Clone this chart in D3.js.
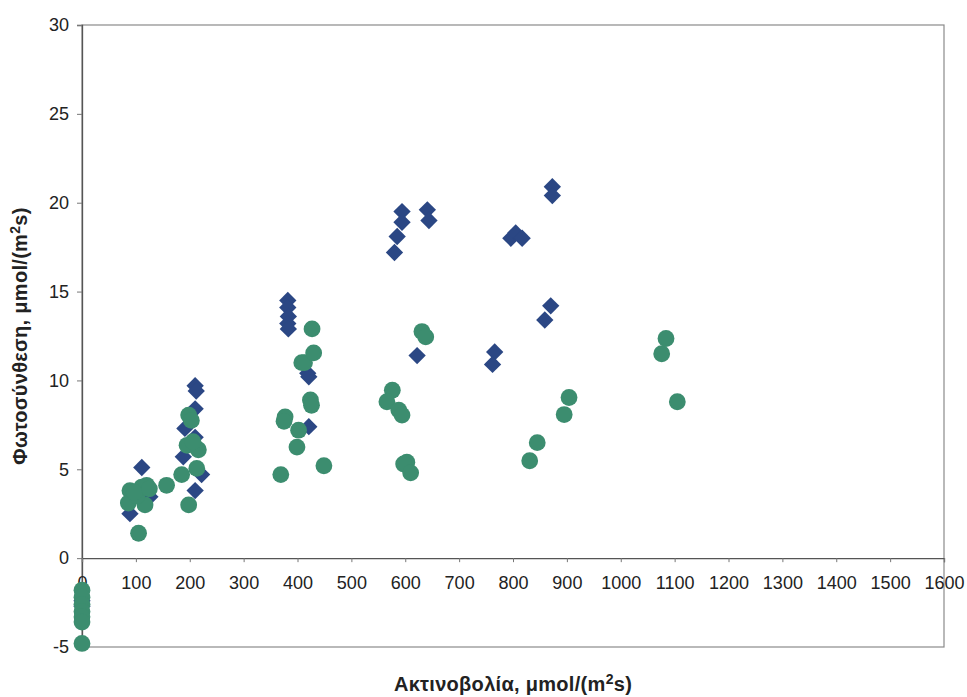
<!DOCTYPE html>
<html>
<head>
<meta charset="utf-8">
<script src="https://cdn.jsdelivr.net/npm/d3@7"></script>
<style>
  html, body { margin: 0; padding: 0; background: #fff; }
  svg { display: block; }
  text { font-family: "Liberation Sans", Arial, sans-serif; fill: #222; }
</style>
</head>
<body>
<svg id="chart" width="967" height="697"></svg>
<script>
// Series 1 (diamonds): radiation and photosynthesis
const seriesAX = [0, 0, 89, 111, 126, 210, 212, 210, 191, 210, 188, 222, 210,
  382, 382, 383, 382, 383, 419, 421, 421,
  594, 594, 585, 580, 641, 644, 622,
  766, 762, 796, 805, 817, 873, 873, 870, 859];
const seriesAY = [-2.4, -2.7, 2.5, 5.1, 3.45, 9.7, 9.4, 8.4, 7.3, 6.8, 5.7, 4.7, 3.8,
  14.5, 14.1, 13.6, 13.2, 12.9, 10.4, 10.2, 7.4,
  19.5, 18.9, 18.1, 17.2, 19.6, 19.0, 11.4,
  11.6, 10.9, 18.0, 18.3, 18.0, 20.9, 20.4, 14.2, 13.4];

// Series 2 (circles)
const seriesBX = [0, 0, 0, 0, 0, 0, 0,
  105, 89, 111, 120, 86, 117, 102, 97, 125,
  157, 185, 198, 203, 195, 216, 206, 213, 198,
  369, 377, 375, 399, 402, 408, 413, 427, 430, 424, 426, 449,
  576, 566, 588, 594, 603, 597, 610, 631, 638,
  831, 845, 895, 904, 1076, 1084, 1105];
const seriesBY = [-1.8, -2.2, -2.6, -3.0, -3.3, -3.6, -4.8,
  1.4, 3.8, 4.0, 4.1, 3.1, 3.0, 3.5, 3.7, 3.9,
  4.1, 4.7, 8.05, 7.75, 6.35, 6.1, 6.55, 5.05, 3.0,
  4.7, 7.95, 7.7, 6.25, 7.2, 11.0, 11.0, 12.9, 11.55, 8.9, 8.6, 5.2,
  9.45, 8.8, 8.33, 8.05, 5.4, 5.3, 4.8, 12.75, 12.45,
  5.48, 6.5, 8.08, 9.04, 11.5, 12.36, 8.8];

const xTicks = [0, 100, 200, 300, 400, 500, 600, 700, 800, 900, 1000, 1100, 1200, 1300, 1400, 1500, 1600];
const yTicks = [-5, 0, 5, 10, 15, 20, 25, 30];

const xTitle = "Ακτινοβολία, μmol/(m";
const yTitle = "Φωτοσύνθεση, μmol/(m";

const svg = d3.select("#chart");
const plotL = 82, plotR = 944, plotT = 25, plotB = 647;

const x = d3.scaleLinear().domain([0, 1600]).range([plotL, plotR]);
const y = d3.scaleLinear().domain([-5, 30]).range([plotB, plotT]);
const plain = d => String(d);   // plain integers, ASCII minus, no thousands separator

// plot frame
svg.append("rect")
  .attr("x", plotL).attr("y", plotT)
  .attr("width", plotR - plotL).attr("height", plotB - plotT)
  .attr("fill", "none").attr("stroke", "#8a8a8a").attr("stroke-width", 1.2);

// y axis
const yAxis = d3.axisLeft(y).tickValues(yTicks).tickFormat(plain).tickSize(5).tickPadding(8);
const gy = svg.append("g").attr("transform", `translate(${plotL},0)`).call(yAxis);
gy.select(".domain").attr("stroke", "#555").attr("stroke-width", 1.3);
gy.selectAll(".tick line").attr("stroke", "#777");
gy.selectAll(".tick text")
  .attr("font-size", 18).attr("font-family", "Liberation Sans, Arial, sans-serif")
  .attr("fill", "#222");

// x axis along y = 0
const xAxis = d3.axisBottom(x).tickValues(xTicks).tickFormat(plain).tickSize(4).tickPadding(14);
const gx = svg.append("g").attr("transform", `translate(0,${y(0)})`).call(xAxis);
gx.select(".domain").attr("stroke", "#555").attr("stroke-width", 1.3);
gx.selectAll(".tick line").attr("stroke", "#777");
gx.selectAll(".tick text")
  .attr("font-size", 18).attr("font-family", "Liberation Sans, Arial, sans-serif")
  .attr("fill", "#222");

// markers
const diamond = d3.symbol().type(d3.symbolSquare).size(150);
const ptsA = seriesAX.map((v, i) => [v, seriesAY[i]]);
const ptsB = seriesBX.map((v, i) => [v, seriesBY[i]]);

svg.append("g").selectAll("path").data(ptsA).join("path")
  .attr("d", diamond)
  .attr("transform", d => `translate(${x(d[0])},${y(d[1])}) rotate(45)`)
  .attr("fill", "#2b4784");

svg.append("g").selectAll("circle").data(ptsB).join("circle")
  .attr("cx", d => x(d[0])).attr("cy", d => y(d[1]))
  .attr("r", 8.4)
  .attr("fill", "#3c8d6f");

// axis titles
const xt = svg.append("text")
  .attr("x", (plotL + plotR) / 2).attr("y", 691)
  .attr("text-anchor", "middle")
  .attr("font-size", 20).attr("font-weight", "bold").attr("letter-spacing", 0.3);
xt.append("tspan").text(xTitle);
xt.append("tspan").attr("dy", -7).attr("font-size", 14).text("2");
xt.append("tspan").attr("dy", 7).text("s)");

const yt = svg.append("text")
  .attr("transform", `translate(27,${(plotT + plotB) / 2}) rotate(-90)`)
  .attr("text-anchor", "middle")
  .attr("font-size", 20).attr("font-weight", "bold").attr("letter-spacing", 0.3);
yt.append("tspan").text(yTitle);
yt.append("tspan").attr("dy", -7).attr("font-size", 14).text("2");
yt.append("tspan").attr("dy", 7).text("s)");
</script>
</body>
</html>
